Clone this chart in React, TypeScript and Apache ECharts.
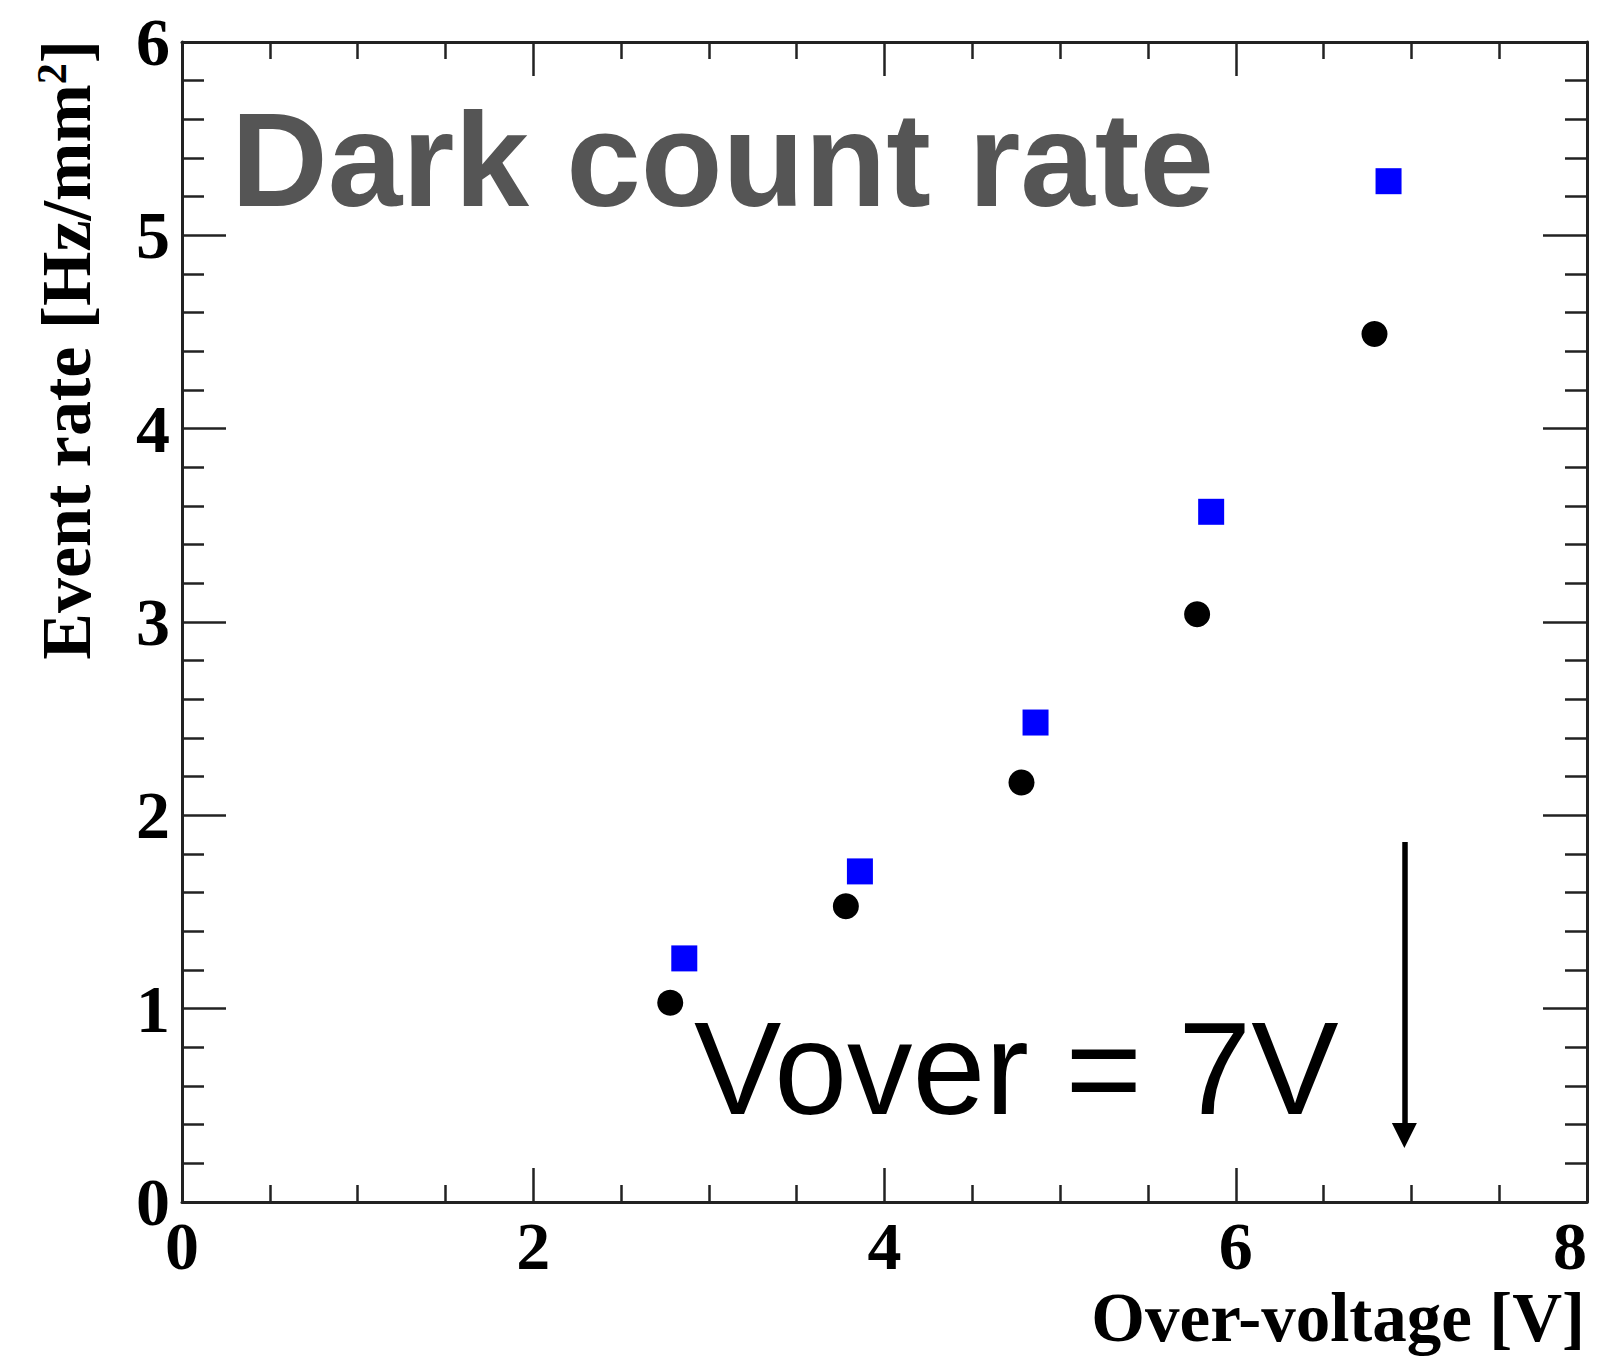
import React, { useEffect, useRef } from "react";
import * as echarts from "echarts";

// Over-voltage [V] and event rate [Hz/mm^2]
const overVoltageBlack = [2.78, 3.78, 4.78, 5.78, 6.79];
const rateBlack = [1.03, 1.53, 2.17, 3.04, 4.49];
const overVoltageBlue = [2.86, 3.86, 4.86, 5.86, 6.87];
const rateBlue = [1.26, 1.71, 2.48, 3.57, 5.28];

const xRange = [0, 8];
const xInterval = 2;
const yRange = [0, 6];
const yInterval = 1;

// Arrow marking Vover = 7V
const arrowX = 6.96;
const arrowTop = 1.862;
const arrowEnd = 0.344;

const titleText = "Dark count rate";
const annotationText = "Vover = 7V";
const xTitle = "Over-voltage [V]";

const W = 1597;
const H = 1357;

export default function App() {
  const ref = useRef<HTMLDivElement>(null);
  useEffect(() => {
    if (!ref.current) return;
    const chart = echarts.init(ref.current, null, { renderer: "svg", width: W, height: H });
    const serif = "'Liberation Serif', 'Times New Roman', serif";
    const sans = "'Liberation Sans', Arial, Helvetica, sans-serif";
    const axisColor = "#222";
    const baseAxisX = {
      type: "value" as const,
      min: xRange[0],
      max: xRange[1],
      interval: xInterval,
      splitLine: { show: false },
      axisLine: { show: true, onZero: false, lineStyle: { color: axisColor, width: 3 } },
      axisTick: { show: true, inside: true, length: 34, lineStyle: { color: axisColor, width: 2.5 } },
      minorTick: { show: true, splitNumber: 4, length: 17, lineStyle: { color: axisColor, width: 2.5 } },
      minorSplitLine: { show: false },
    };
    const baseAxisY = {
      type: "value" as const,
      min: yRange[0],
      max: yRange[1],
      interval: yInterval,
      splitLine: { show: false },
      axisLine: { show: true, onZero: false, lineStyle: { color: axisColor, width: 3 } },
      axisTick: { show: true, inside: true, length: 44, lineStyle: { color: axisColor, width: 2.5 } },
      minorTick: { show: true, splitNumber: 5, length: 22, lineStyle: { color: axisColor, width: 2.5 } },
      minorSplitLine: { show: false },
    };
    chart.setOption({
      animation: false,
      backgroundColor: "#ffffff",
      grid: {
        left: 182,
        right: 10,
        top: 42,
        bottom: 155,
        containLabel: false,
        outerBoundsMode: "none",
      },
      xAxis: [
        {
          ...baseAxisX,
          position: "bottom",
          axisLabel: {
            show: true,
            margin: 10,
            color: "#000",
            fontFamily: serif,
            fontWeight: "bold",
            fontSize: 68,
            lineHeight: 68,
            alignMaxLabel: "right",
          },
        },
        { ...baseAxisX, position: "top", axisLabel: { show: false } },
      ],
      yAxis: [
        {
          ...baseAxisY,
          position: "left",
          axisLabel: {
            show: true,
            margin: 12,
            color: "#000",
            fontFamily: serif,
            fontWeight: "bold",
            fontSize: 68,
            lineHeight: 68,
          },
        },
        { ...baseAxisY, position: "right", axisLabel: { show: false } },
      ],
      series: [
        {
          type: "scatter",
          name: "black",
          xAxisIndex: 0,
          yAxisIndex: 0,
          symbol: "circle",
          symbolSize: 26,
          itemStyle: { color: "#000000", opacity: 1 },
          data: overVoltageBlack.map((x, i) => [x, rateBlack[i]]),
          markLine: {
            silent: true,
            symbol: ["none", "triangle"],
            symbolSize: 25,
            label: { show: false },
            lineStyle: { color: "#000", width: 5.5, type: "solid", opacity: 1 },
            itemStyle: { color: "#000" },
            data: [[{ coord: [arrowX, arrowTop] }, { coord: [arrowX, arrowEnd] }]],
          },
        },
        {
          type: "scatter",
          name: "blue",
          xAxisIndex: 0,
          yAxisIndex: 0,
          symbol: "rect",
          symbolSize: 26,
          itemStyle: { color: "#0000ff", opacity: 1 },
          data: overVoltageBlue.map((x, i) => [x, rateBlue[i]]),
        },
      ],
      graphic: [
        {
          type: "text",
          x: 231,
          y: 159,
          style: {
            text: titleText,
            fill: "#555555",
            font: `bold 134px ${sans}`,
            align: "left",
            verticalAlign: "middle",
          },
        },
        {
          type: "text",
          x: 694,
          y: 1068,
          style: {
            text: annotationText,
            fill: "#000000",
            font: `131px ${sans}`,
            align: "left",
            verticalAlign: "middle",
          },
        },
        {
          type: "text",
          x: 1585,
          y: 1318,
          style: {
            text: xTitle,
            fill: "#000000",
            font: `bold 69px ${serif}`,
            lineHeight: 69,
            align: "right",
            verticalAlign: "middle",
          },
        },
        {
          type: "text",
          x: 66,
          y: 40,
          rotation: Math.PI / 2,
          style: {
            text: "{m|Event rate [Hz/mm}{s|2}{m|]}",
            align: "right",
            verticalAlign: "middle",
            rich: {
              m: {
                fontFamily: serif,
                fontWeight: "bold",
                fontSize: 70,
                lineHeight: 70,
                fill: "#000",
                color: "#000",
              },
              s: {
                fontFamily: serif,
                fontWeight: "bold",
                fontSize: 42,
                lineHeight: 26,
                verticalAlign: "top",
                fill: "#000",
                color: "#000",
              },
            },
          },
        },
      ],
    });
    return () => chart.dispose();
  }, []);
  return (
    <div
      ref={ref}
      style={{ position: "absolute", left: 0, top: 0, width: W + "px", height: H + "px", background: "#fff" }}
    />
  );
}
